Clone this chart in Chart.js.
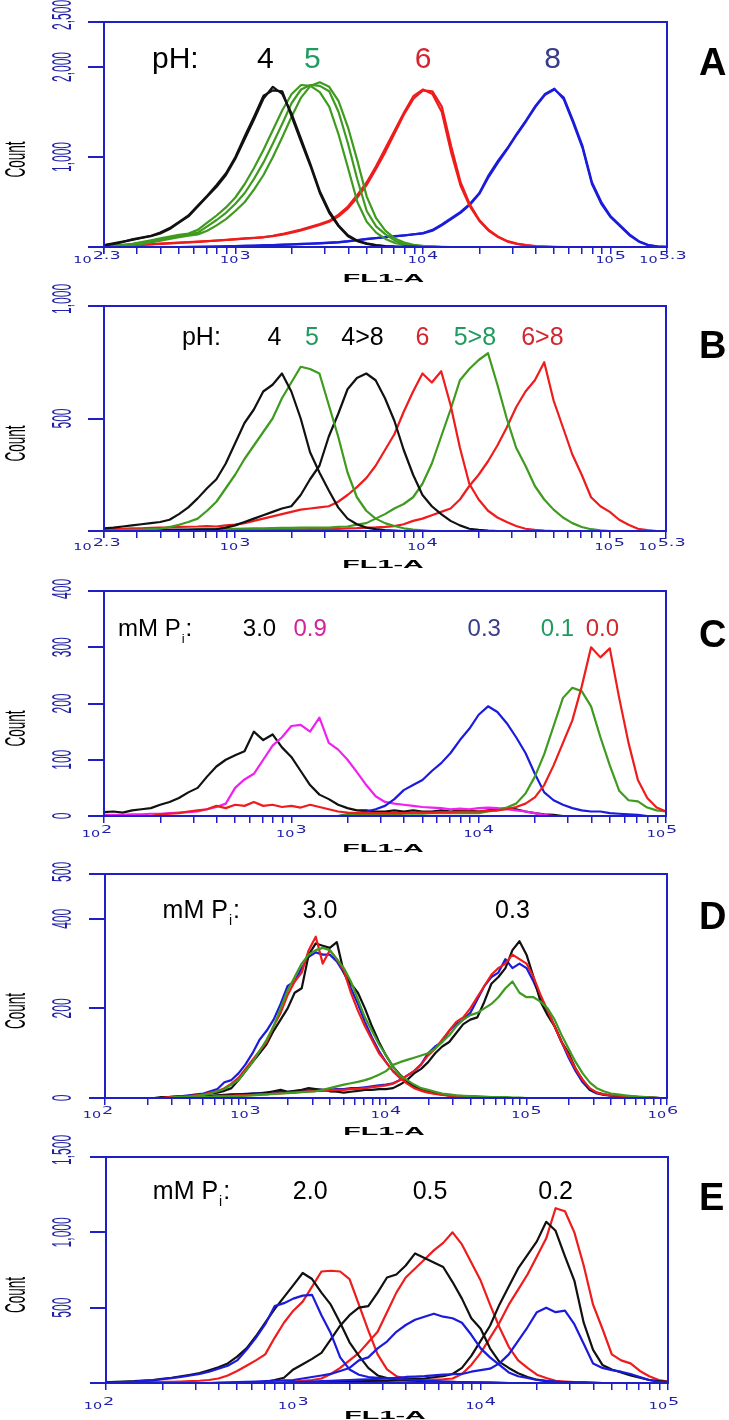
<!DOCTYPE html>
<html>
<head>
<meta charset="utf-8">
<script src="https://cdn.jsdelivr.net/npm/chart.js@4.4.0/dist/chart.umd.min.js"></script>
<style>
  body { margin: 0; background: #fff; width: 729px; height: 1420px; position: relative; overflow: hidden }
  canvas { position: absolute; left: 0 }
</style>
</head>
<body>
<script>
// log10 of FL1-A, one point every 0.05 decade
const xPH = [2.30,2.35,2.40,2.45,2.50,2.55,2.60,2.65,2.70,2.75,
  2.80,2.85,2.90,2.95,3.00,3.05,3.10,3.15,3.20,3.25,
  3.30,3.35,3.40,3.45,3.50,3.55,3.60,3.65,3.70,3.75,
  3.80,3.85,3.90,3.95,4.00,4.05,4.10,4.15,4.20,4.25,
  4.30,4.35,4.40,4.45,4.50,4.55,4.60,4.65,4.70,4.75,
  4.80,4.85,4.90,4.95,5.00,5.05,5.10,5.15,5.20,5.25,5.30]
const xPi = [2.00,2.05,2.10,2.15,2.20,2.25,2.30,2.35,2.40,2.45,
  2.50,2.55,2.60,2.65,2.70,2.75,2.80,2.85,2.90,2.95,
  3.00,3.05,3.10,3.15,3.20,3.25,3.30,3.35,3.40,3.45,
  3.50,3.55,3.60,3.65,3.70,3.75,3.80,3.85,3.90,3.95,
  4.00,4.05,4.10,4.15,4.20,4.25,4.30,4.35,4.40,4.45,
  4.50,4.55,4.60,4.65,4.70,4.75,4.80,4.85,4.90,4.95,5.00]
const xD = [2.00,2.05,2.10,2.15,2.20,2.25,2.30,2.35,2.40,2.45,
  2.50,2.55,2.60,2.65,2.70,2.75,2.80,2.85,2.90,2.95,
  3.00,3.05,3.10,3.15,3.20,3.25,3.30,3.35,3.40,3.45,
  3.50,3.55,3.60,3.65,3.70,3.75,3.80,3.85,3.90,3.95,
  4.00,4.05,4.10,4.15,4.20,4.25,4.30,4.35,4.40,4.45,
  4.50,4.55,4.60,4.65,4.70,4.75,4.80,4.85,4.90,4.95,
  5.00,5.05,5.10,5.15,5.20,5.25,5.30,5.35,5.40,5.45,
  5.50,5.55,5.60,5.65,5.70,5.75,5.80,5.85,5.90,5.95,6.00]

// tick labels (exponents of 10) and count ticks
const xLabelsPH = ['2.3', '3', '4', '5', '5.3']
const xLabelsC = ['2', '3', '4', '5']
const xLabelsD = ['2', '3', '4', '5', '6']
const yTicksA = [0, 1000, 2000, 2500]
const yLabelsA = ['', '1,000', '2,000', '2,500']
const yTicksB = [0, 500, 1000]
const yLabelsB = ['', '500', '1,000']
const yTicksC = [0, 100, 200, 300, 400]
const yLabelsC = ['0', '100', '200', '300', '400']
const yTicksD = [0, 200, 400, 500]
const yLabelsD = ['0', '200', '400', '500']
const yTicksE = [0, 500, 1000, 1500]
const yLabelsE = ['', '500', '1,000', '1,500']

// A: pH 4, 5, 6, 8 (replicates)
const phA4a = [20,40,60,80,100,120,150,200,270,340, 450,560,670,800,980,1200,1420,1650,1780,1700, 1480,1200,920,620,400,240,130,70,40,20, 10,5,3,2,0]
const phA4b = [18,35,55,85,105,125,160,210,280,350, 460,570,690,820,1000,1230,1450,1680,1740,1730, 1450,1170,900,600,380,230,120,65,35,18, 8,4,2,1,0]
const phA5a = [10,15,20,30,45,65,85,105,125,140, 160,230,300,380,480,600,760,940,1150,1370, 1600,1750,1800,1790,1730,1500,1150,750,400,230, 140,70,35,15,8,4,0]
const phA5b = [8,12,16,22,35,50,70,90,110,125, 140,180,240,310,400,500,640,800,1000,1220, 1450,1660,1790,1830,1780,1620,1330,960,560,320, 180,95,50,25,12,6,2,0]
const phA5c = [12,18,25,35,55,75,95,115,135,150, 190,270,350,440,550,700,880,1080,1300,1520, 1700,1800,1790,1720,1560,1250,880,500,280,160, 90,45,22,10,5,2,0]
const phA6a = [5,8,12,20,25,32,38,44,50,55, 60,66,72,80,88,95,102,110,125,145, 170,195,225,255,290,360,450,580,720,900, 1100,1300,1500,1680,1750,1700,1500,1050,680,450, 290,180,110,60,35,18,8,4,0]
const phA6b = [4,7,10,16,22,28,35,40,46,52, 58,64,70,78,85,92,100,108,120,138, 160,185,215,245,280,340,430,550,690,870, 1060,1270,1480,1650,1740,1730,1560,1120,720,470, 300,190,115,65,38,20,10,5,2,0]
const phA8a = [0,0,0,0,0,0,0,0,0,2, 3,4,5,8,10,12,15,18,22,26, 30,34,38,42,48,55,65,78,90,100, 110,120,130,142,155,190,250,320,390,480, 600,800,960,1100,1260,1410,1570,1700,1760,1640, 1380,1100,700,480,330,230,130,60,20,5,2]
const phA8b = [0,0,0,0,0,0,0,0,0,0, 2,3,5,7,9,12,14,17,20,24, 28,32,36,40,46,52,62,75,88,98, 108,118,128,140,152,180,240,310,380,470, 590,780,940,1090,1250,1400,1560,1690,1750,1660, 1400,1120,720,500,340,240,140,65,22,6,2]

// B: pH 4, 5, 4>8, 6, 5>8, 6>8
const phB4 = [12,15,20,25,30,35,40,50,75,105, 145,190,230,300,390,480,540,620,650,700, 620,500,350,260,180,105,55,30,15,8, 4,2,0]
const phB5 = [3,3,4,5,6,8,10,18,28,40, 55,90,130,190,250,320,380,440,500,590, 660,730,720,700,560,420,260,150,90,55, 35,22,12,6,3,0]
const phB48 = [2,2,3,3,4,4,5,5,6,6, 7,7,8,15,25,40,55,70,85,100, 110,160,230,290,420,520,630,680,700,670, 590,490,360,250,160,110,75,45,25,10, 5,2,0]
const phB6 = [10,10,10,12,12,14,15,16,18,19, 20,22,20,25,28,35,45,55,65,75, 85,95,100,105,110,130,160,195,235,290, 360,430,530,620,700,660,710,560,370,210, 140,90,60,40,22,10,5,2,0]
const phB58 = [0,0,0,0,0,0,2,3,4,5, 6,7,8,9,10,11,12,12,13,14, 14,15,15,15,15,18,20,28,35,55, 75,100,120,150,210,300,420,540,670,720, 760,790,650,500,370,290,200,140,95,60, 35,18,8,3,0]
const phB68 = [0,0,0,0,0,0,0,0,0,0, 2,2,3,3,4,4,5,5,6,6, 7,7,8,8,8,9,12,13,15,16, 18,22,30,45,55,70,85,100,140,200, 250,310,380,460,550,620,670,750,580,460, 340,250,150,110,85,50,28,10,4,0]

// C: mM Pi 3.0, 0.9, 0.3, 0.1, 0.0
const piC30 = [7,8,6,10,12,14,20,25,32,42, 50,70,88,100,108,115,150,135,145,122, 105,80,55,38,30,20,14,10,10,8, 8,10,8,10,8,8,10,8,10,10, 8,10,12,14,12,8,5,3,2,0]
const piC09 = [2,2,2,3,3,4,4,5,6,7, 8,12,16,22,50,65,75,100,125,140, 160,162,150,175,130,118,100,78,55,35, 25,22,20,18,16,15,14,12,13,12, 14,15,14,12,10,8,5,2,0]
const piC03 = [0,0,0,0,0,0,0,0,0,0, 0,0,0,0,0,0,0,0,0,0, 0,0,0,0,0,0,3,5,8,12, 18,30,46,55,64,80,94,112,135,155, 180,195,185,165,140,112,75,42,28,20, 14,10,8,8,5,4,3,2,0]
const piC01 = [0,0,0,0,0,0,0,0,0,0, 0,0,0,0,0,0,0,0,0,0, 0,0,0,0,0,0,2,2,3,3, 3,3,4,4,4,5,5,5,5,5, 5,8,10,15,22,40,70,110,160,210, 228,222,195,140,90,45,28,26,15,10,8]
const piC00 = [0,0,0,0,0,0,3,4,5,8, 10,12,18,14,20,18,25,18,20,16, 18,15,20,16,12,8,6,5,5,5, 5,5,5,6,6,6,7,7,8,8, 8,9,10,12,16,22,33,55,90,130, 170,230,300,282,298,210,130,64,32,15,8]

// D: mM Pi 3.0 and 0.3, four samples each
const dK1 = [0,0,0,0,0,0,0,0,2,2, 3,3,5,5,8,10,12,16,22,40, 60,80,100,120,150,175,200,235,245,320, 345,340,335,348,280,255,235,200,160,125, 95,70,52,38,25,18,14,10,8,6, 5,4,3,3,2,2,2,1,0]
const dR1 = [0,0,0,0,0,0,0,0,0,2, 2,3,4,6,8,12,15,22,32,45, 65,85,105,125,160,190,230,260,280,330, 360,300,330,310,285,235,195,160,130,100, 80,60,45,32,22,16,12,9,7,5, 4,3,3,2,2,1,0]
const dG1 = [0,0,0,0,0,0,0,0,0,0, 2,2,3,5,7,10,15,20,30,40, 60,80,105,130,160,200,240,270,300,320, 330,335,330,310,290,260,220,180,150,120, 95,70,50,40,30,22,18,14,10,8, 6,5,4,3,3,2,2,2,1,1,0]
const dB1 = [0,0,0,0,0,0,0,0,0,2, 3,4,6,8,10,15,20,35,40,55, 75,100,130,150,175,210,250,260,290,315, 325,320,320,305,280,245,210,170,135,105, 80,60,45,35,25,18,14,10,8,6, 4,3,3,2,2,1,1,0]
const dK2 = [0,0,0,0,0,0,0,0,0,0, 0,0,2,3,4,5,6,7,8,8, 8,10,10,12,15,18,14,16,18,22, 20,18,15,14,12,14,16,18,18,20, 20,22,30,40,55,65,80,100,115,125, 145,165,175,180,215,255,270,290,330,350, 320,270,215,185,160,125,100,65,40,20, 12,8,6,5,4,3,2,2,1,0]
const dR2 = [0,0,0,0,0,0,0,0,0,0, 0,0,2,2,3,3,4,5,5,6, 6,7,8,8,10,10,12,12,14,15, 16,16,17,18,18,20,20,22,24,26, 28,32,40,50,60,75,95,110,130,150, 170,180,200,225,250,275,290,300,320,310, 300,270,230,195,160,125,95,65,40,22, 12,8,6,5,4,3,2,2,1,0]
const dG2 = [0,0,0,0,0,0,0,0,0,0, 0,0,1,1,2,2,3,3,4,4, 5,6,7,8,9,10,11,12,13,14, 15,18,22,26,30,33,36,40,45,52, 60,74,80,85,90,95,100,110,125,140, 160,175,185,190,200,210,225,245,260,235, 225,225,215,200,175,140,110,80,55,35, 22,15,10,8,6,4,3,2,1,0]
const dB2 = [0,0,0,0,0,0,0,0,0,0, 0,0,0,2,3,4,5,6,7,8, 9,10,11,12,13,14,14,15,16,17, 18,18,19,20,20,22,22,24,26,28, 30,33,40,50,60,75,100,115,125,150, 165,175,190,220,250,270,280,310,290,300, 290,260,225,195,160,125,90,60,35,18, 10,7,5,4,3,2,2,1,0]

// E: mM Pi 2.0, 0.5, 0.2, three samples each
const eK1 = [5,7,10,12,16,20,28,35,45,55, 66,85,105,130,175,230,310,400,490,570, 650,730,690,600,520,400,270,180,100,50, 33,25,20,15,10,8,6,5,4,3, 2,2,1,0]
const eB1 = [3,5,8,10,14,18,25,32,40,50, 60,75,95,115,150,220,300,390,510,530, 560,580,585,450,330,170,90,55,40,35, 30,28,25,20,15,12,10,8,5,4, 3,2,1,0]
const eR1 = [2,2,3,4,5,6,7,8,10,12, 15,20,30,50,80,115,150,190,300,400, 480,540,640,740,745,740,690,520,350,190, 90,45,30,22,15,12,10,7,5,3, 2,0]
const eK2 = [0,0,0,0,0,0,0,0,0,0, 0,0,0,0,0,2,5,8,20,35, 90,125,160,200,290,380,450,500,510,600, 700,720,780,860,830,800,770,670,560,430, 360,230,140,100,65,40,22,12,6,4, 3,2,1,0]
const eR2 = [0,0,0,0,0,0,0,0,0,0, 0,0,0,0,0,0,2,3,5,6, 10,14,20,30,60,100,150,200,270,340, 470,600,700,760,820,880,930,1000,920,800, 680,520,370,240,150,100,55,33,15,10, 6,4,2,0]
const eB2 = [0,0,0,0,0,0,0,0,0,0, 0,0,2,4,6,8,10,12,15,18, 20,30,40,50,60,80,100,150,170,230, 275,340,385,420,440,460,440,430,400,320, 230,170,120,70,45,33,20,15,10,5, 3,2,0]
const eK3 = [0,0,0,0,0,0,0,0,0,0, 0,0,0,0,0,0,0,0,0,0, 2,3,4,5,6,8,10,12,14,15, 15,20,25,28,30,38,45,60,100,180, 280,380,520,640,760,850,940,1070,1010,840, 680,400,220,120,90,70,50,35,20,12,8]
const eR3 = [0,0,0,0,0,0,0,0,0,0, 0,0,0,0,0,0,0,0,0,0, 0,0,0,2,3,4,5,6,7,8, 8,10,12,15,18,22,25,30,60,120, 200,300,400,520,620,720,840,960,1160,1140, 1000,780,520,360,190,150,130,80,45,20,10]
const eB3 = [0,0,0,0,0,0,0,0,0,0, 0,0,0,0,0,0,0,0,0,0, 5,8,10,12,15,18,20,22,25,28, 30,35,40,42,45,50,55,58,60,75, 85,95,130,190,280,370,470,500,470,480, 390,260,130,100,85,75,60,40,20,8,4]

const W = 729
const BLUE = '#1f1fc8'
const TICK_BLUE = '#1e1ea6'
const BLACK = '#111111'
const GREEN = '#3f9b1f'
const RED = '#ee1c1c'
const DBLUE = '#1b1bdc'
const MAGENTA = '#f020f0'
const T_GREEN = '#1f9b5f'
const T_RED = '#d3262f'
const T_NAVY = '#383c8c'
const T_MAG = '#d4209c'
const SANS = '"Liberation Sans", Arial, sans-serif'

const panels = [
  {
    letter: 'A', top: 0, height: 290, frame: { top: 22, bottom: 247, left: 104, right: 667 },
    grid: xPH, xMin: 2.3, xMax: 5.3, xLabels: xLabelsPH, yMax: 2500, yTicks: yTicksA, yLabels: yLabelsA,
    tickGap: 16, flY: 282, letterY: 61, noteSize: 30,
    series: [[phA4a, BLACK], [phA4b, BLACK], [phA5a, GREEN], [phA5b, GREEN], [phA5c, GREEN],
      [phA6a, RED], [phA6b, RED], [phA8a, DBLUE], [phA8b, DBLUE]],
    notes: [
      { t: 'pH:', x: 2.68, y: 2105, c: '#000' },
      { t: '4', x: 3.16, y: 2105, c: '#000' },
      { t: '5', x: 3.41, y: 2105, c: T_GREEN },
      { t: '6', x: 4.0, y: 2105, c: T_RED },
      { t: '8', x: 4.69, y: 2105, c: T_NAVY },
    ],
  },
  {
    letter: 'B', top: 280, height: 292, frame: { top: 306, bottom: 531, left: 104, right: 666 },
    grid: xPH, xMin: 2.3, xMax: 5.3, xLabels: xLabelsPH, yMax: 1000, yTicks: yTicksB, yLabels: yLabelsB,
    tickGap: 19, flY: 568, letterY: 344, noteSize: 25,
    series: [[phB4, BLACK], [phB5, GREEN], [phB48, BLACK], [phB6, RED], [phB58, GREEN], [phB68, RED]],
    notes: [
      { t: 'pH:', x: 2.82, y: 867, c: '#000' },
      { t: '4', x: 3.21, y: 867, c: '#000' },
      { t: '5', x: 3.41, y: 867, c: T_GREEN },
      { t: '4>8', x: 3.68, y: 867, c: '#000' },
      { t: '6', x: 4.0, y: 867, c: T_RED },
      { t: '5>8', x: 4.28, y: 867, c: T_GREEN },
      { t: '6>8', x: 4.64, y: 867, c: T_RED },
    ],
  },
  {
    letter: 'C', top: 560, height: 296, frame: { top: 591, bottom: 816, left: 104, right: 666 },
    grid: xPi, xMin: 2, xMax: 5, xLabels: xLabelsC, yMax: 400, yTicks: yTicksC, yLabels: yLabelsC,
    tickGap: 21, flY: 852, letterY: 633, noteSize: 24,
    series: [[piC00, RED], [piC01, GREEN], [piC03, DBLUE], [piC09, MAGENTA], [piC30, BLACK]],
    notes: [
      { t: 'mM P', sub: 'i', x: 2.075, y: 335, c: '#000' },
      { t: '3.0', x: 2.83, y: 335, c: '#000' },
      { t: '0.9', x: 3.1, y: 335, c: T_MAG },
      { t: '0.3', x: 4.03, y: 335, c: T_NAVY },
      { t: '0.1', x: 4.42, y: 335, c: T_GREEN },
      { t: '0.0', x: 4.66, y: 335, c: T_RED },
    ],
  },
  {
    letter: 'D', top: 845, height: 294, frame: { top: 874, bottom: 1098, left: 105, right: 667 },
    grid: xD, xMin: 2, xMax: 6, xLabels: xLabelsD, yMax: 500, yTicks: yTicksD, yLabels: yLabelsD,
    tickGap: 20, flY: 1135, letterY: 915, noteSize: 25,
    series: [[dG1, GREEN], [dG2, GREEN], [dR1, RED], [dR2, RED], [dK1, BLACK], [dK2, BLACK], [dB1, DBLUE], [dB2, DBLUE]],
    notes: [
      { t: 'mM P', sub: 'i', x: 2.41, y: 422, c: '#000' },
      { t: '3.0', x: 3.53, y: 422, c: '#000' },
      { t: '0.3', x: 4.9, y: 422, c: '#000' },
    ],
  },
  {
    letter: 'E', top: 1130, height: 290, frame: { top: 1157, bottom: 1383, left: 106, right: 668 },
    grid: xPi, xMin: 2, xMax: 5, xLabels: xLabelsC, yMax: 1500, yTicks: yTicksE, yLabels: yLabelsE,
    tickGap: 26, flY: 1419, letterY: 1196, noteSize: 25,
    series: [[eB1, DBLUE], [eB2, DBLUE], [eB3, DBLUE], [eK1, BLACK], [eK2, BLACK], [eK3, BLACK],
      [eR1, RED], [eR2, RED], [eR3, RED]],
    notes: [
      { t: 'mM P', sub: 'i', x: 2.25, y: 1278, c: '#000' },
      { t: '2.0', x: 3.09, y: 1278, c: '#000' },
      { t: '0.5', x: 3.73, y: 1278, c: '#000' },
      { t: '0.2', x: 4.4, y: 1278, c: '#000' },
    ],
  },
]

// tick positions of a log axis drawn in log10 units
function logTicks(min, max) {
  const out = [min]
  for (let d = Math.floor(min); d <= Math.ceil(max); d++) {
    for (let k = 1; k <= 9; k++) {
      const v = d + Math.log10(k)
      if (v > min + 1e-6 && v < max - 1e-6) out.push(v)
    }
  }
  out.push(max)
  return out
}

function stretch(ctx, txt, x, y, sx, align) {
  ctx.save()
  ctx.translate(x, y)
  ctx.scale(sx, 1)
  ctx.textAlign = align
  ctx.fillText(txt, 0, 0)
  ctx.restore()
}

function makeDeco(p) {
  return {
    id: 'deco' + p.letter,
    afterDraw(chart) {
      const ctx = chart.ctx
      const a = chart.chartArea
      const xs = chart.scales.x
      const ys = chart.scales.y
      ctx.save()
      ctx.strokeStyle = BLUE
      ctx.lineWidth = 2
      ctx.strokeRect(a.left, a.top, a.right - a.left, a.bottom - a.top)
      ctx.textBaseline = 'alphabetic'

      // x labels: small "10" followed by a larger exponent
      ctx.fillStyle = TICK_BLUE
      p.xLabels.forEach((lab) => {
        const v = Number(lab)
        ctx.font = '9px "DejaVu Sans"'
        const w1 = ctx.measureText('10').width * 1.6
        ctx.font = '11px "DejaVu Sans"'
        const w2 = ctx.measureText(lab).width * 1.6
        let cx = xs.getPixelForValue(v)
        if (v === p.xMin) cx -= 7
        if (v === p.xMax) cx -= 4
        const x0 = cx - (w1 + w2 + 1) / 2
        const base = a.bottom + p.tickGap
        ctx.font = '9px "DejaVu Sans"'
        stretch(ctx, '10', x0, base, 1.6, 'left')
        ctx.font = '11px "DejaVu Sans"'
        stretch(ctx, lab, x0 + w1 + 1, base - 4, 1.6, 'left')
      })

      // y labels, condensed and turned upright
      ctx.font = '28px ' + SANS
      p.yTicks.forEach((v, i) => {
        const lab = p.yLabels[i]
        if (!lab) return
        const len = ctx.measureText(lab).width * 0.43
        const shift = v === p.yMax ? Math.max(0, len / 2 - 8) : 0
        ctx.save()
        ctx.translate(71, ys.getPixelForValue(v) - shift)
        ctx.rotate(-Math.PI / 2)
        ctx.scale(0.43, 1)
        ctx.textAlign = 'center'
        ctx.fillText(lab, 0, 0)
        ctx.restore()
      })

      ctx.fillStyle = '#000'
      ctx.font = '30px ' + SANS
      ctx.save()
      ctx.translate(25, (a.top + a.bottom) / 2 + 25)
      ctx.rotate(-Math.PI / 2)
      ctx.scale(0.45, 1)
      ctx.textAlign = 'center'
      ctx.fillText('Count', 0, 0)
      ctx.restore()

      ctx.font = 'bold 11.5px ' + SANS
      stretch(ctx, 'FL1-A', (a.left + a.right) / 2 - 2, p.flY - p.top, 2.5, 'center')

      // annotations
      const fs = p.noteSize
      p.notes.forEach((n) => {
        const px = xs.getPixelForValue(n.x)
        const base = ys.getPixelForValue(n.y) + 0.358 * fs
        ctx.fillStyle = n.c
        ctx.font = fs + 'px ' + SANS
        if (n.sub) {
          ctx.textAlign = 'left'
          ctx.fillText(n.t, px, base)
          const w = ctx.measureText(n.t).width
          ctx.font = Math.round(fs * 0.55) + 'px ' + SANS
          ctx.fillText(n.sub, px + w + 1, base + fs * 0.28)
          const w2 = ctx.measureText(n.sub).width
          ctx.font = fs + 'px ' + SANS
          ctx.fillText(':', px + w + w2 + 2, base)
        } else {
          ctx.textAlign = 'center'
          ctx.fillText(n.t, px, base)
        }
      })

      ctx.fillStyle = '#000'
      ctx.font = 'bold 38px ' + SANS
      ctx.textAlign = 'left'
      ctx.fillText(p.letter, 699, p.letterY - p.top + 0.358 * 38)
      ctx.restore()
    },
  }
}

panels.forEach((p) => {
  const canvas = document.createElement('canvas')
  canvas.width = W
  canvas.height = p.height
  canvas.style.top = p.top + 'px'
  document.body.appendChild(canvas)
  const fr = {
    top: p.frame.top - p.top,
    bottom: p.frame.bottom - p.top,
    left: p.frame.left,
    right: p.frame.right,
  }

  new Chart(canvas, {
    type: 'scatter',
    data: {
      datasets: p.series.map(([ys, color]) => ({
        data: ys.map((y, i) => ({ x: p.grid[i], y })),
        showLine: true,
        borderColor: color,
        borderWidth: 2.2,
        borderJoinStyle: 'round',
        pointRadius: 0,
        fill: false,
      })),
    },
    options: {
      responsive: false,
      animation: false,
      events: [],
      layout: { padding: { top: fr.top, right: W - fr.right, left: 0, bottom: 0 } },
      plugins: { legend: { display: false }, tooltip: { enabled: false } },
      scales: {
        x: {
          type: 'linear',
          min: p.xMin,
          max: p.xMax,
          afterBuildTicks: (s) => { s.ticks = logTicks(p.xMin, p.xMax).map((v) => ({ value: v })) },
          afterFit: (s) => { s.height = p.height - fr.bottom },
          ticks: { display: false },
          grid: { drawOnChartArea: false, tickLength: 7, color: BLUE, lineWidth: 1.5 },
          border: { color: BLUE, width: 2 },
        },
        y: {
          min: 0,
          max: p.yMax,
          afterBuildTicks: (s) => { s.ticks = p.yTicks.map((v) => ({ value: v })) },
          afterFit: (s) => { s.width = fr.left },
          ticks: { display: false },
          grid: { drawOnChartArea: false, tickLength: 16, color: BLUE, lineWidth: 2 },
          border: { color: BLUE, width: 2 },
        },
      },
    },
    plugins: [makeDeco(p)],
  })
})
</script>
</body>
</html>
